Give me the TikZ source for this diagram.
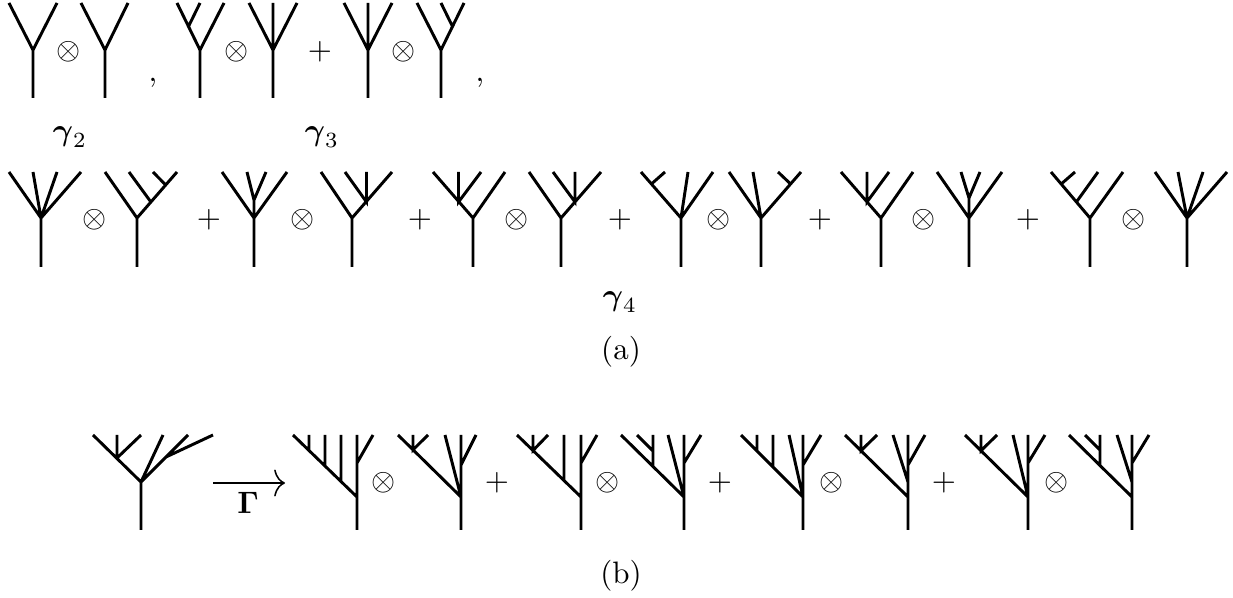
\documentclass[tikz,border=0pt]{standalone}
\usepackage{amsmath}
\usetikzlibrary{arrows.meta}
\begin{document}
\begin{tikzpicture}[x=0.3226pt,y=-0.3226pt,
  trline/.style={line width=0.95pt,line join=miter},
  op/.style={inner sep=0pt},
  lbl/.style={inner sep=0pt}]
\path[use as bounding box] (0,0) rectangle (1233,598);
% ---------- row 1 ----------
\draw[trline] (9,3)--(33,50)--(57,3) (33,50)--(33,98);
\node[op] (o1) at (69,52) {$\otimes$};
\draw[trline] (81,3)--(105,50)--(128,3) (105,50)--(105,98);
\node[op] (c1) at (153,83) {,};
\draw[trline] (177,3)--(200,50)--(224,3) (200,50)--(200,98) (188.5,26.5)--(200,3);
\node[op] (o2) at (237,52) {$\otimes$};
\draw[trline] (249,3)--(273,50)--(297,3) (273,3)--(273,98);
\node[op] (p1) at (320,52) {$+$};
\draw[trline] (344,3)--(368,50)--(392,3) (368,3)--(368,98);
\node[op] (o3) at (404,52) {$\otimes$};
\draw[trline] (417,3)--(441,50)--(464,3) (441,50)--(441,98) (452.5,26.5)--(441,3);
\node[op] (c2) at (480,83) {,};
\node[lbl] (g2) at (70,137) {$\boldsymbol{\gamma}_2$};
\node[lbl] (g3) at (322,137) {$\boldsymbol{\gamma}_3$};
% ---------- row 2 ----------
% A
\draw[trline] (9,172)--(41,218)--(81,172) (33,172)--(41,218) (57,172)--(41,218) (41,218)--(41,267);
\node[op] (o4) at (95,220) {$\otimes$};
% B
\draw[trline] (105,172)--(137,218)--(177,172) (137,218)--(137,267) (150.9,202)--(129,172) (165.7,185)--(153,172);
\node[op] (p2) at (209,220) {$+$};
% C
\draw[trline] (222,172)--(254,218)--(287,172) (254,267)--(254,200) (247,172)--(254,200)--(266,172);
\node[op] (o5) at (303,220) {$\otimes$};
% D
\draw[trline] (321,172)--(352,218)--(392,172) (352,218)--(352,267) (345,172)--(366.5,202)--(366.5,172);
\node[op] (p3) at (420,220) {$+$};
% E
\draw[trline] (433,172)--(473,218)--(505,172) (473,218)--(473,267) (458.5,172)--(458.5,202)--(481,172);
\node[op] (o6) at (517,220) {$\otimes$};
% F
\draw[trline] (529,172)--(561,218)--(601,172) (561,218)--(561,267) (553,172)--(575,202)--(575,172);
\node[op] (p4) at (620,220) {$+$};
% G
\draw[trline] (641,172)--(681,218)--(713,172) (681,267)--(681,218)--(688,172) (651.4,184)--(665,172);
\node[op] (o7) at (719,220) {$\otimes$};
% H
\draw[trline] (729,172)--(761,218)--(801,172) (761,267)--(761,218)--(753,172) (790.6,184)--(778,172);
\node[op] (p5) at (820,220) {$+$};
% I
\draw[trline] (841,172)--(881,218)--(913,172) (881,218)--(881,267) (867,172)--(867,202)--(889,172);
\node[op] (o8) at (924,220) {$\otimes$};
% J
\draw[trline] (937,172)--(969,218)--(1002,172) (969,267)--(969,198) (961,172)--(969,198)--(980,172);
\node[op] (p6) at (1028,220) {$+$};
% K
\draw[trline] (1051,172)--(1090,218)--(1123,172) (1090,218)--(1090,267) (1076.4,202)--(1098,172) (1061.2,184)--(1075,172);
\node[op] (o9) at (1134,220) {$\otimes$};
% L
\draw[trline] (1155,172)--(1187,218)--(1227,172) (1178,172)--(1187,218) (1203,172)--(1187,218) (1187,218)--(1187,267);
\node[lbl] (g4) at (620,302) {$\boldsymbol{\gamma}_4$};
\node[lbl] (la) at (621,352) {(a)};
% ---------- row 3 ----------
% P
\draw[trline] (93,435)--(141,482)--(188,435) (141,530)--(141,482)--(163,435)
  (117,458)--(117,435) (117,458)--(141,435) (166,457)--(213,435);
\coordinate (ar1) at (213,483);
\coordinate (ar2) at (285,483);
\draw[line width=0.5pt,-{Computer Modern Rightarrow[length=3.5pt,width=8.7pt]}] (ar1)--(ar2);
\node[lbl] (G) at (248,503) {$\mathbf{\Gamma}$};
% Q1
\draw[trline] (293,435)--(357,497) (357,530)--(357,435) (357,463)--(373,435)
  (309,450.5)--(309,435) (325,466)--(325,435) (341,481.5)--(341,435);
\node[op] (o10) at (384,483) {$\otimes$};
% Q2
\draw[trline] (398,435)--(461,497) (461,530)--(461,435) (461,465)--(476,435)
  (413,435)--(413,449.8)--(428,435) (445,435)--(461,497);
\node[op] (p7) at (497,483) {$+$};
% Q3
\draw[trline] (517,435)--(581,497) (581,530)--(581,435) (581,463)--(597,435)
  (533,435)--(533,450.5)--(548,435) (564,480.5)--(564,435);
\node[op] (o11) at (608,483) {$\otimes$};
% Q4
\draw[trline] (621,435)--(684,497) (684,530)--(684,435) (684,463)--(701,435)
  (653,466.5)--(653,435) (637,435)--(653,451) (668,435)--(684,497);
\node[op] (p8) at (720,483) {$+$};
% Q5
\draw[trline] (741,435)--(803,497) (803,530)--(803,435) (803,465)--(821,435)
  (757,451)--(757,435) (773,467)--(773,435) (789,435)--(803,497);
\node[op] (o12) at (832,483) {$\otimes$};
% Q6
\draw[trline] (845,435)--(908,497) (908,530)--(908,435) (908,465)--(925,435)
  (861,435)--(861,450.7)--(877,435) (893,435)--(908,482);
\node[op] (p9) at (944,483) {$+$};
% Q7
\draw[trline] (965,435)--(1028,497) (1028,530)--(1028,435) (1028,463)--(1045,435)
  (981,435)--(981,450.7)--(997,435) (1013,435)--(1028,497);
\node[op] (o13) at (1057,483) {$\otimes$};
% Q8
\draw[trline] (1069,435)--(1132,497) (1132,530)--(1132,435) (1132,463)--(1149,435)
  (1100,465.5)--(1100,435) (1085,435)--(1100,450) (1117,435)--(1132,482);
\node[lbl] (lb) at (621,576) {(b)};
\end{tikzpicture}
\end{document}
